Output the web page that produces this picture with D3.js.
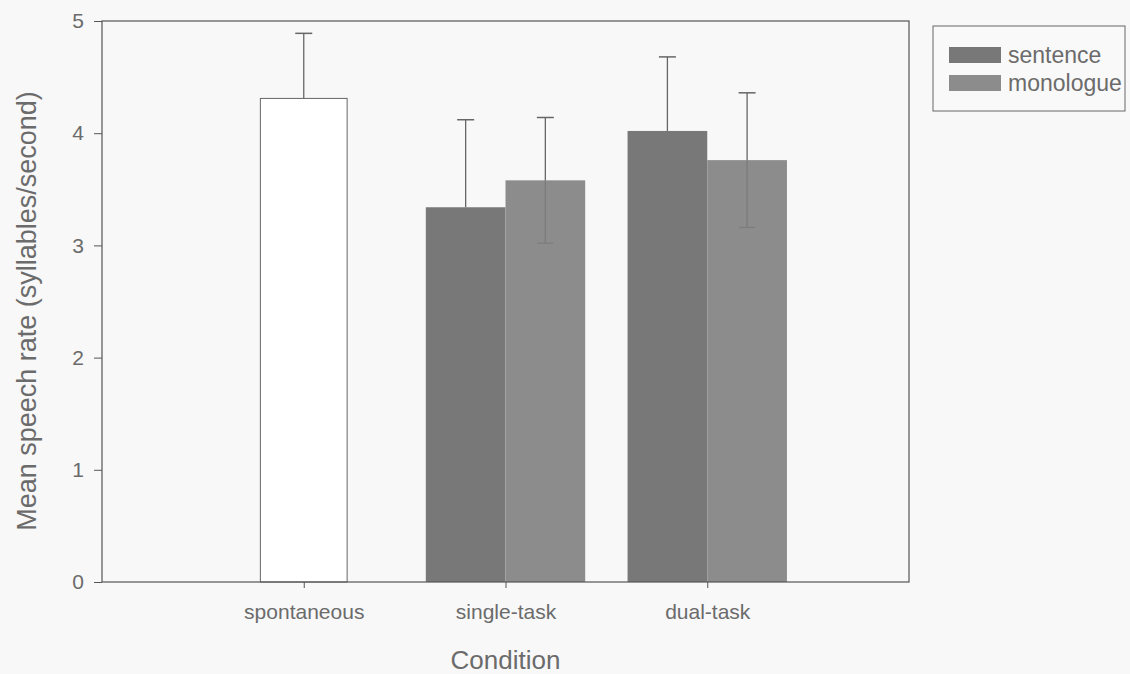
<!DOCTYPE html>
<html>
<head>
<meta charset="utf-8">
<script src="https://cdn.jsdelivr.net/npm/d3@7"></script>
<style>
  body { margin: 0; background: #f8f8f8; }
  svg text { font-family: "Liberation Sans", Arial, sans-serif; fill: #6b6b6b; }
</style>
</head>
<body>
<svg id="chart" width="1130" height="674"></svg>
<script>
// Chart data
var conditions = ['spontaneous', 'single-task', 'dual-task'];
var series = ['sentence', 'monologue'];
var spontaneousMean = 4.31;
var spontaneousErr = 0.58;
var sentenceMeans = [null, 3.34, 4.02];
var sentenceErrs = [null, 0.78, 0.66];
var monologueMeans = [null, 3.58, 3.76];
var monologueErrs = [null, 0.56, 0.60];
var yTicks = [0, 1, 2, 3, 4, 5];

// Layout
var margin = {top: 21, right: 221, bottom: 92, left: 102},
    width = 1130 - margin.left - margin.right,
    height = 674 - margin.top - margin.bottom;

var colors = { sentence: '#787878', monologue: '#8c8c8c', spontaneous: '#ffffff' };
var axisColor = '#555';

var svg = d3.select('#chart');
var g = svg.append('g')
           .attr('transform', 'translate(' + margin.left + ',' + margin.top + ')');

// Scales
var x = d3.scalePoint()
    .domain(conditions)
    .range([0, width])
    .padding(1);

var y = d3.scaleLinear()
    .domain([0, 5])
    .range([height, 0]);

var step = x.step();
var barW = step * 0.395;
var singleW = step * 0.43;

// Build bar list
var bars = [];
bars.push({ cond: conditions[0], key: 'spontaneous', value: spontaneousMean,
            err: spontaneousErr, x0: x(conditions[0]) - singleW / 2, w: singleW });
for (var i = 1; i < conditions.length; i++) {
  bars.push({ cond: conditions[i], key: 'sentence', value: sentenceMeans[i],
              err: sentenceErrs[i], x0: x(conditions[i]) - barW, w: barW });
  bars.push({ cond: conditions[i], key: 'monologue', value: monologueMeans[i],
              err: monologueErrs[i], x0: x(conditions[i]), w: barW });
}

// Bars
g.append('g').selectAll('rect')
  .data(bars)
  .enter().append('rect')
  .attr('x', function(d) { return d.x0; })
  .attr('y', function(d) { return y(d.value); })
  .attr('width', function(d) { return d.w; })
  .attr('height', function(d) { return y(0) - y(d.value); })
  .attr('fill', function(d) { return colors[d.key]; })
  .attr('stroke', function(d) { return d.key == 'spontaneous' ? '#666' : 'none'; })
  .attr('stroke-width', 1);

// Error bars: upper whisker for all, lower one only shows on monologue bars
var eb = g.append('g').selectAll('g')
  .data(bars)
  .enter().append('g');
eb.append('line')
  .attr('x1', function(d) { return d.x0 + d.w / 2; })
  .attr('x2', function(d) { return d.x0 + d.w / 2; })
  .attr('y1', function(d) { return y(d.value); })
  .attr('y2', function(d) { return y(d.value + d.err); })
  .attr('stroke', '#666')
  .attr('stroke-width', 1.3);
eb.append('line')
  .attr('x1', function(d) { return d.x0 + d.w / 2 - 8.5; })
  .attr('x2', function(d) { return d.x0 + d.w / 2 + 8.5; })
  .attr('y1', function(d) { return y(d.value + d.err); })
  .attr('y2', function(d) { return y(d.value + d.err); })
  .attr('stroke', '#666')
  .attr('stroke-width', 1.5);

var lower = eb.filter(function(d) { return d.key == 'monologue'; });
lower.append('line')
  .attr('x1', function(d) { return d.x0 + d.w / 2; })
  .attr('x2', function(d) { return d.x0 + d.w / 2; })
  .attr('y1', function(d) { return y(d.value); })
  .attr('y2', function(d) { return y(d.value - d.err); })
  .attr('stroke', '#7a7a7a')
  .attr('stroke-width', 1.2);
lower.append('line')
  .attr('x1', function(d) { return d.x0 + d.w / 2 - 8; })
  .attr('x2', function(d) { return d.x0 + d.w / 2 + 8; })
  .attr('y1', function(d) { return y(d.value - d.err); })
  .attr('y2', function(d) { return y(d.value - d.err); })
  .attr('stroke', '#7c7c7c')
  .attr('stroke-width', 1.2);

// Frame
g.append('rect')
  .attr('x', 0).attr('y', 0)
  .attr('width', width).attr('height', height)
  .attr('fill', 'none')
  .attr('stroke', axisColor)
  .attr('stroke-width', 1.2);

// Axes
var yAxis = g.append('g')
  .call(d3.axisLeft(y).tickValues(yTicks).tickSize(8).tickPadding(10).tickFormat(d3.format('d')));
var xAxis = g.append('g')
  .attr('transform', 'translate(0,' + height + ')')
  .call(d3.axisBottom(x).tickSize(6).tickPadding(16));

[yAxis, xAxis].forEach(function(a) {
  a.select('.domain').remove();
  a.selectAll('line').attr('stroke', axisColor);
  a.selectAll('text').style('font-size', '21px')
   .style('font-family', '"Liberation Sans", Arial, sans-serif');
});

// Axis titles
svg.append('text')
   .attr('transform', 'translate(36,311) rotate(-90)')
   .style('text-anchor', 'middle')
   .style('font-size', '27px')
   .text('Mean speech rate (syllables/second)');
svg.append('text')
   .attr('x', margin.left + width / 2)
   .attr('y', 669)
   .style('text-anchor', 'middle')
   .style('font-size', '26px')
   .text('Condition');

// Legend
var legend = svg.append('g').attr('transform', 'translate(933,26)');
legend.append('rect')
  .attr('width', 192).attr('height', 85)
  .attr('fill', '#f9f9f9')
  .attr('stroke', '#666')
  .attr('stroke-width', 1);
series.forEach(function(s, i) {
  legend.append('rect')
    .attr('x', 16).attr('y', 21 + i * 28)
    .attr('width', 52).attr('height', 16)
    .attr('fill', colors[s]);
  legend.append('text')
    .attr('x', 75).attr('y', 37 + i * 28)
    .style('font-size', '23px')
    .text(s);
});
</script>
</body>
</html>
